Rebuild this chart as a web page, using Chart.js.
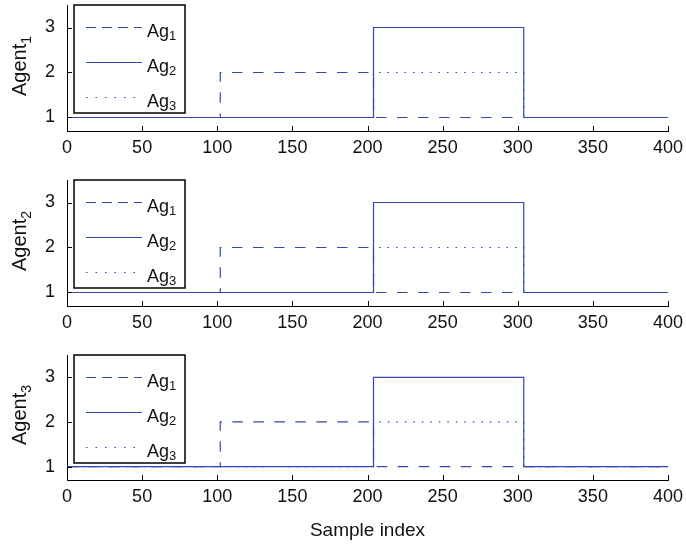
<!DOCTYPE html>
<html>
<head>
<meta charset="utf-8">
<script src="https://cdn.jsdelivr.net/npm/chart.js@4.4.0/dist/chart.umd.min.js"></script>
<style>
  body { margin: 0; background: #fff; width: 686px; height: 546px; position: relative; overflow: hidden; }
  .panel { position: absolute; left: 0; width: 686px; }
</style>
</head>
<body>
<div class="panel" style="top:0;height:170px"><canvas id="c1"></canvas></div>
<div class="panel" style="top:175px;height:170px"><canvas id="c2"></canvas></div>
<div class="panel" style="top:350px;height:196px"><canvas id="c3"></canvas></div>
<script>
// step breakpoints (sample index where a new value starts) and the values
var ag1X = [0, 102, 204, 400];
var ag1Y = [1, 2, 1, 1];
var ag2X = [0, 204, 304, 400];
var ag2Y = [1, 3, 1, 1];
var ag3X = [0, 204, 304, 400];
var ag3Y = [1, 2, 1, 1];
var yTicks = [1, 2, 3];
var seriesNames = ["1", "2", "3"];   // subscripts of Ag
var lineColor = "#3346b2";
var dashes = [[10.5, 10.5], [], [1.5, 7]];
var legendDashes = [[10, 6], [], [1.5, 8]];
var fontFam = "'Liberation Sans', Arial, sans-serif";

function pts(xs, ys) {
  return xs.map(function (x, i) { return { x: x, y: ys[i] }; });
}

function makePanel(id, agentNum, last) {
  var panelPlugin = {
    id: "panel" + agentNum,
    afterDatasetsDraw: function (chart) {
      var ctx = chart.ctx;
      var a = chart.chartArea;
      var xs = chart.scales.x, ys = chart.scales.y;
      ctx.save();
      // inward tick marks
      ctx.strokeStyle = "#000";
      ctx.lineWidth = 1;
      ctx.beginPath();
      xs.ticks.forEach(function (t) {
        var px = Math.round(xs.getPixelForValue(t.value)) + 0.5;
        ctx.moveTo(px, a.bottom);
        ctx.lineTo(px, a.bottom - 5);
      });
      ys.ticks.forEach(function (t) {
        var py = Math.round(ys.getPixelForValue(t.value)) + 0.5;
        ctx.moveTo(a.left, py);
        ctx.lineTo(a.left + 5, py);
      });
      ctx.stroke();

      // legend box
      var bx = a.left + 7, by = a.top;
      ctx.fillStyle = "#fff";
      ctx.fillRect(bx, by, 111, 108);
      ctx.lineWidth = 1.5;
      ctx.strokeStyle = "#000";
      ctx.strokeRect(bx, by, 111, 108);
      for (var i = 0; i < 3; i++) {
        var ly = by + 22 + i * 35;
        ctx.strokeStyle = lineColor;
        ctx.lineWidth = 1.2;
        ctx.setLineDash(legendDashes[i]);
        ctx.beginPath();
        ctx.moveTo(bx + 12, ly + 0.5);
        ctx.lineTo(bx + 68, ly + 0.5);
        ctx.stroke();
        ctx.setLineDash([]);
        ctx.fillStyle = "#111";
        ctx.textAlign = "left";
        ctx.textBaseline = "alphabetic";
        ctx.font = "18px " + fontFam;
        ctx.fillText("Ag", bx + 73, ly + 10);
        var w = ctx.measureText("Ag").width;
        ctx.font = "13px " + fontFam;
        ctx.fillText(seriesNames[i], bx + 73 + w, ly + 13);
      }

      // y axis title with subscript
      ctx.translate(26, a.bottom - 35);
      ctx.rotate(-Math.PI / 2);
      ctx.fillStyle = "#111";
      ctx.font = "20px " + fontFam;
      ctx.fillText("Agent", 0, 0);
      var aw = ctx.measureText("Agent").width;
      ctx.font = "14px " + fontFam;
      ctx.fillText(String(agentNum), aw, 5);
      ctx.restore();
    }
  };

  new Chart(document.getElementById(id), {
    type: "line",
    data: {
      datasets: [
        { label: "Ag1", data: pts(ag1X, ag1Y), borderDash: dashes[0] },
        { label: "Ag2", data: pts(ag2X, ag2Y), borderDash: dashes[1] },
        { label: "Ag3", data: pts(ag3X, ag3Y), borderDash: dashes[2] },
      ].map(function (d) {
        d.borderColor = lineColor;
        d.borderWidth = 1.2;
        d.pointRadius = 0;
        d.stepped = true;
        d.fill = false;
        return d;
      }),
    },
    options: {
      responsive: true,
      maintainAspectRatio: false,
      animation: false,
      layout: { padding: { top: 5, right: 18, left: 0, bottom: 0 } },
      plugins: { legend: { display: false }, tooltip: { enabled: false } },
      scales: {
        x: {
          type: "linear",
          min: 0,
          max: 400,
          grid: { display: false, drawTicks: false },
          border: { display: true, color: "#000", width: 1 },
          ticks: {
            stepSize: 50,
            padding: 6,
            maxRotation: 0,
            color: "#111",
            font: { family: fontFam, size: 18 },
          },
          title: {
            display: last,
            text: "Sample index",
            color: "#111",
            padding: { top: 0, bottom: 4 },
            font: { family: fontFam, size: 19 },
          },
          afterFit: function (s) {
            s.height = last ? 66 : 39;
            s.paddingLeft = 0;
            s.paddingRight = 0;
          },
        },
        y: {
          min: 0.7,
          max: 3.5,
          grid: { display: false, drawTicks: false },
          border: { display: true, color: "#000", width: 1 },
          ticks: {
            padding: 12,
            color: "#111",
            font: { family: fontFam, size: 18 },
          },
          afterBuildTicks: function (s) {
            s.ticks = yTicks.map(function (v) { return { value: v }; });
          },
          afterFit: function (s) {
            s.width = 67;
            s.paddingTop = 0;
            s.paddingBottom = 0;
          },
        },
      },
    },
    plugins: [panelPlugin],
  });
}

makePanel("c1", 1, false);
makePanel("c2", 2, false);
makePanel("c3", 3, true);
</script>
</body>
</html>
